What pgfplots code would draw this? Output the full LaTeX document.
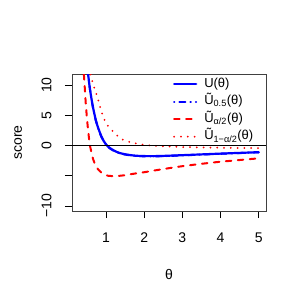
\documentclass[border=0pt]{standalone}
\usepackage{pgfplots}
\pgfplotsset{compat=1.18}
\usepackage{fontspec}
\setmainfont{Liberation Sans}
\begin{document}
\begin{tikzpicture}[x=1pt,y=1pt]
\useasboundingbox (0,0) rectangle (303,303);
\begin{axis}[
  at={(72pt,92pt)}, anchor=south west,
  scale only axis, width=194pt, height=137pt,
  xmin=0.11, xmax=5.19, ymin=-10.84, ymax=11.84,
  xtick={1,2,3,4,5},
  ytick={-10,-5,0,5,10},
  yticklabels={−10,,0,5,10},
  tick align=outside, tick pos=left,
  major tick length=7pt,
  every tick/.style={black, line width=0.6pt},
  axis line style={black!75, line width=0.6pt},
  tick label style={font=\fontsize{14}{16}\selectfont},
  /pgf/number format/assume math mode=true,
  xticklabel style={yshift=-11.3pt},
  yticklabel style={rotate=90, anchor=south, yshift=10pt},
  xlabel={θ}, ylabel={score},
  label style={font=\fontsize{14}{16}\selectfont},
  xlabel style={at={(axis description cs:0.5,-0.46)}, anchor=center},
  ylabel style={at={(axis description cs:-0.278,0.5)}, anchor=center, rotate=0},
  clip=true,
  legend style={draw=none, fill=none, at={(axis description cs:0.52,0.978)}, anchor=north west,
    font=\fontsize{13}{15}\selectfont, row sep=3.5pt, inner sep=0pt, column sep=6pt,
    nodes={text height=9pt, text depth=3pt, inner sep=1pt}},
  legend cell align=left,
  legend image code/.code={\draw[#1] (0pt,0pt) -- (22pt,0pt);},
]
\addplot[blue, line width=2.2pt, line cap=round] coordinates {
(0.50,13.5) (0.53,11.9) (0.56,10.3) (0.60,8.5) (0.64,7.0) (0.68,5.7) (0.73,4.3) (0.78,3.2) (0.83,2.3) (0.88,1.5) (0.94,0.75) (1.00,0.2) (1.05,-0.15) (1.12,-0.5) (1.20,-0.8) (1.28,-1.05) (1.36,-1.25) (1.50,-1.45) (1.65,-1.6) (1.80,-1.7) (2.0,-1.75) (2.25,-1.76) (2.5,-1.72) (2.75,-1.66) (3.0,-1.6) (3.5,-1.47) (4.0,-1.34) (4.5,-1.22) (5.0,-1.1)};
\addlegendentry{U(θ)}
\addplot[blue, line width=2pt, line cap=round, dash pattern=on 0.3pt off 5pt on 6pt off 5pt] coordinates {
(0.50,13.4) (0.53,11.8) (0.56,10.2) (0.60,8.4) (0.64,6.9) (0.68,5.6) (0.73,4.2) (0.78,3.1) (0.83,2.2) (0.88,1.4) (0.94,0.68) (1.00,0.12) (1.05,-0.22) (1.12,-0.56) (1.20,-0.86) (1.28,-1.1) (1.36,-1.3) (1.50,-1.5) (1.65,-1.65) (1.80,-1.74) (2.0,-1.79) (2.25,-1.8) (2.5,-1.76) (2.75,-1.7) (3.0,-1.64) (3.5,-1.5) (4.0,-1.37) (4.5,-1.25) (5.0,-1.13)};
\addlegendentry{Ũ\textsubscript{0.5}(θ)}
\addplot[red, line width=2pt, line cap=round, dash pattern=on 5.5pt off 6.5pt] coordinates {
(0.40,13.8) (0.42,11.9) (0.44,10.0) (0.47,7.0) (0.50,4.6) (0.53,2.6) (0.56,0.9) (0.58,0.0) (0.62,-1.2) (0.66,-2.2) (0.70,-2.9) (0.75,-3.55) (0.80,-4.0) (0.88,-4.5) (0.95,-4.8) (1.05,-5.0) (1.18,-5.07) (1.30,-5.05) (1.45,-4.95) (1.6,-4.8) (1.8,-4.6) (2.0,-4.42) (2.25,-4.15) (2.5,-3.9) (2.75,-3.65) (3.0,-3.42) (3.4,-3.1) (3.75,-2.85) (4.0,-2.68) (4.5,-2.4) (5.0,-2.12)};
\addlegendentry{Ũ\textsubscript{α/2}(θ)}
\addplot[red, line width=2pt, line cap=round, dash pattern=on 0pt off 6.8pt] coordinates {
(0.55,14.0) (0.60,11.7) (0.66,10.2) (0.73,8.9) (0.82,7.0) (0.88,5.6) (0.96,4.25) (1.05,3.26) (1.14,2.6) (1.27,1.77) (1.45,0.94) (1.66,0.5) (1.84,0.28) (2.0,0.12) (2.25,-0.03) (2.5,-0.13) (3.0,-0.25) (3.5,-0.32) (4.0,-0.37) (4.5,-0.4) (5.0,-0.42)};
\addlegendentry{Ũ\textsubscript{1−α/2}(θ)}
\addplot[black, line width=0.7pt, forget plot] coordinates {(0.11,0) (5.19,0)};
\end{axis}
\end{tikzpicture}
\end{document}
